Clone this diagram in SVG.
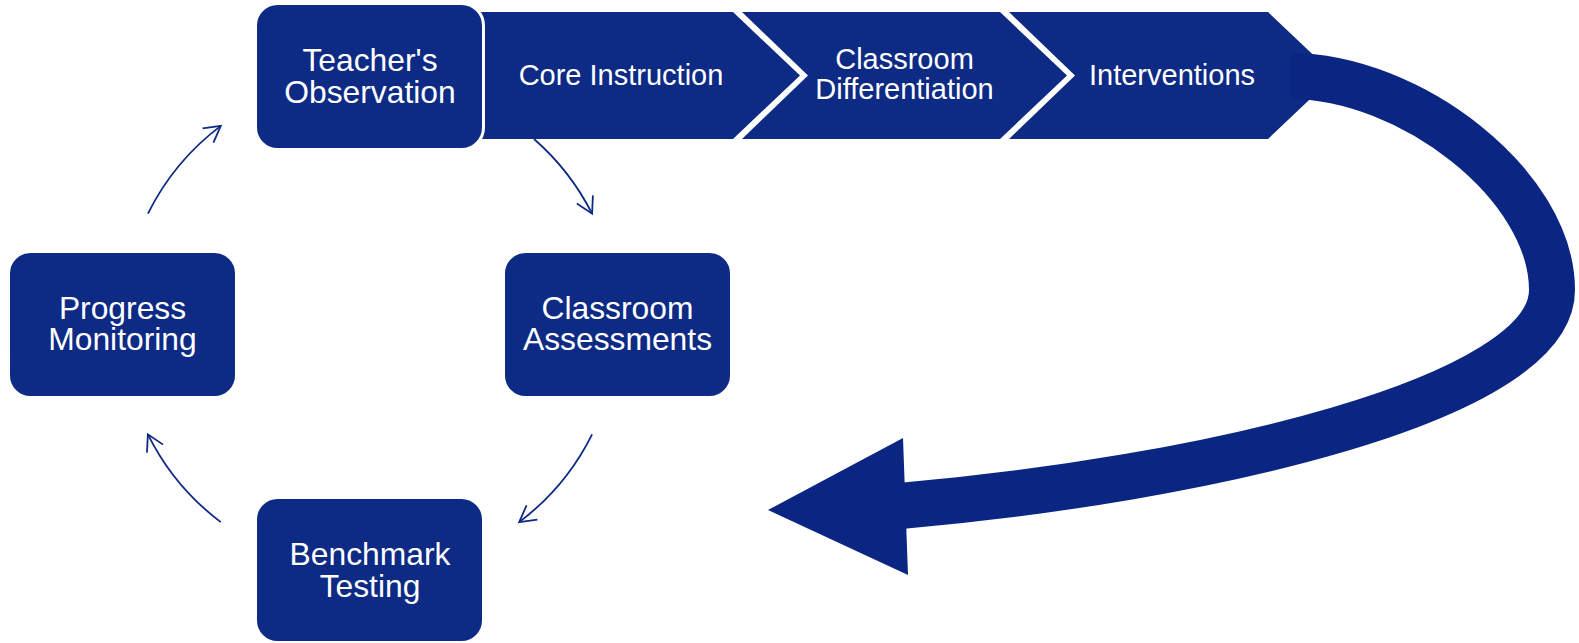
<svg xmlns="http://www.w3.org/2000/svg" width="1579" height="643" viewBox="0 0 1579 643">
<defs>
<style>
.box{fill:#0d2a84;stroke:#ffffff;stroke-width:3}
.chev{fill:#0d2a84;stroke:none}
.t{font-family:"Liberation Sans",Arial,sans-serif;fill:#ffffff;text-anchor:middle}
.tn{font-size:31.8px}
.tc{font-size:29px}
.thin{fill:none;stroke:#0d2a84;stroke-width:1.8}
.big{fill:none;stroke:#0a2682;stroke-width:46;stroke-linecap:butt}
</style>
<marker id="ah" markerUnits="userSpaceOnUse" viewBox="-20 -12 24 24" refX="0" refY="0" markerWidth="24" markerHeight="24" orient="auto">
<path d="M-16,-9 L0,0 L-16,9" fill="none" stroke="#0d2a84" stroke-width="1.8" stroke-linejoin="miter"/>
</marker>
</defs>
<rect width="1579" height="643" fill="#ffffff"/>

<g id="core-instruction">
<polygon class="chev" points="470,12 733,12 800,75.5 733,139 470,139"/>
<text class="t tc" x="621" y="84.5">Core Instruction</text>
</g>
<g id="classroom-differentiation">
<polygon class="chev" points="742,12 1000,12 1067,75.5 1000,139 742,139 808,75.5"/>
<text class="t tc" x="904.5" y="68.5">Classroom</text>
<text class="t tc" x="904.5" y="98.5">Differentiation</text>
</g>
<g id="interventions">
<polygon class="chev" points="1009,12 1268,12 1335,75.5 1268,139 1009,139 1075,75.5"/>
<text class="t tc" x="1172" y="84.5">Interventions</text>
</g>

<g id="connectors">
<path class="thin" marker-end="url(#ah)" d="M147.9,213.7 A248,248 0 0 1 220.8,125.9"/>
<path class="thin" marker-end="url(#ah)" d="M534,139 A248,248 0 0 1 592.1,213.7"/>
<path class="thin" marker-end="url(#ah)" d="M592.1,434.3 A248,248 0 0 1 519.2,522.1"/>
<path class="thin" marker-end="url(#ah)" d="M220.8,522.1 A248,248 0 0 1 147.9,434.3"/>
<g id="big-arrow">
<path class="big" d="M1290,76 C1410,76 1552,185 1552,290 C1552,400 1200,480 900,506"/>
<polygon points="903,438 768,510 908,575" fill="#0a2682"/>
</g>
</g>

<g id="teachers-observation">
<rect class="box" x="255.5" y="3.5" width="228" height="146" rx="22"/>
<text class="t tn" x="370" y="71">Teacher's</text>
<text class="t tn" x="370" y="102.5">Observation</text>
</g>
<g id="progress-monitoring">
<rect class="box" x="8.5" y="251.5" width="228" height="146" rx="22"/>
<text class="t tn" x="122.5" y="318.5">Progress</text>
<text class="t tn" x="122.5" y="350">Monitoring</text>
</g>
<g id="classroom-assessments">
<rect class="box" x="503.5" y="251.5" width="228" height="146" rx="22"/>
<text class="t tn" x="617.5" y="318.5">Classroom</text>
<text class="t tn" x="617.5" y="350">Assessments</text>
</g>
<g id="benchmark-testing">
<rect class="box" x="255.5" y="497.5" width="228" height="145" rx="22"/>
<text class="t tn" x="370" y="565">Benchmark</text>
<text class="t tn" x="370" y="596.5">Testing</text>
</g>
</svg>
